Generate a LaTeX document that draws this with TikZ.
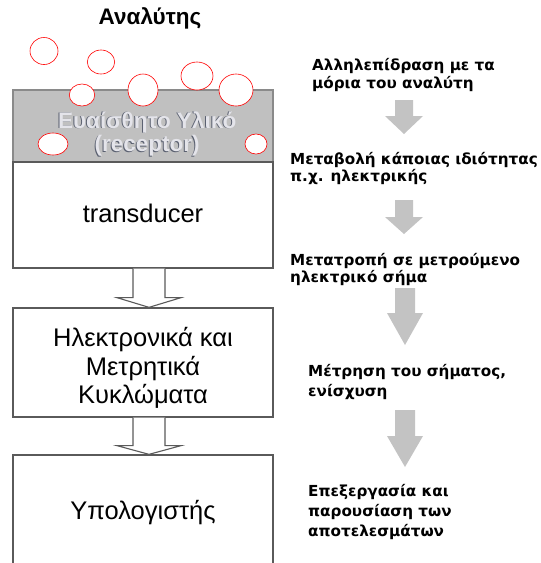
\documentclass[tikz,border=0pt]{standalone}
\usepackage{fontspec}
\setmainfont{Liberation Sans}
\newfontfamily\rfont{DejaVu Sans}
\usetikzlibrary{calc}
\definecolor{recfill}{HTML}{C0C0C0}
\definecolor{recborder}{HTML}{8A8A8A}
\definecolor{boxborder}{HTML}{5A5A5A}
\definecolor{arrowgray}{HTML}{C3C3C3}
\definecolor{rectext}{HTML}{E4E4EA}
\definecolor{recshadow}{HTML}{5A6070}
\tikzset{
  box/.style={draw=boxborder, line width=1.3pt, fill=white, minimum width=260pt, inner sep=0pt},
  boxtext/.style={font=\fontsize{25.5}{28.5}\selectfont, align=center},
  molecule/.style={draw=red, line width=0.6pt, fill=white},
  hollow/.style={draw=boxborder, line width=1.1pt, fill=white, line join=miter},
  flow/.style={fill=arrowgray, draw=none},
  stepnote/.style={anchor=north west, inner sep=0pt, align=left, font=\rfont\bfseries\fontsize{15.2}{#1}\selectfont},
  stepnote/.default=17,
}
\begin{document}
\begin{tikzpicture}[x=1pt, y=-1pt]
\useasboundingbox (0,0) rectangle (541,563);
\begin{scope}
\clip (0,0) rectangle (541,563);
% boxes
\node[box, draw=recborder, fill=recfill, minimum height=72pt] (rec) at (143,126) {};
\node[box, minimum height=106pt] (trans) at (143,215) {};
\node[box, minimum height=109pt] (elec) at (143,362.5) {};
\node[box, minimum height=120pt] (comp) at (143,515) {};
\end{scope}
% texts in boxes
\node[boxtext] (transt) at (143,213) {transducer};
\node[boxtext] (elect) at (143,368) {Ηλεκτρονικά και\\Μετρητικά\\Κυκλώματα};
\node[boxtext] (compt) at (143,513) {Υπολογιστής};
% receptor text with shadow
\node[font=\fontsize{22.5}{23.5}\selectfont\bfseries, text=recshadow, align=center] (recs) at (146.2,134.5) {Ευαίσθητο Υλικό\\(receptor)};
\node[font=\fontsize{22.5}{23.5}\selectfont\bfseries, text=rectext, align=center] (rect) at (147.2,133.7) {Ευαίσθητο Υλικό\\(receptor)};
% molecules
\draw[molecule] (44,51) ellipse (14 and 13.5);
\draw[molecule] (101,62) ellipse (13.7 and 12);
\draw[molecule] (82,95) ellipse (12.7 and 11);
\draw[molecule] (143,90) ellipse (15 and 16);
\draw[molecule] (197,76) ellipse (16 and 14);
\draw[molecule] (236,90) ellipse (17 and 16);
\draw[molecule] (53,144) ellipse (15 and 11);
\draw[molecule] (256,144) ellipse (11 and 10);
% title
\node[font=\bfseries\fontsize{22.5}{27}\selectfont] (title) at (150,18) {Αναλύτης};
% hollow arrows between boxes
\draw[hollow] ($(trans.south)+(-10,0)$) -- ($(trans.south)+(-10,29)$) -- ($(trans.south)+(-26,29)$)
  -- ($(elec.north)+(6,0)$) -- ($(trans.south)+(38,29)$) -- ($(trans.south)+(22,29)$) -- ($(trans.south)+(22,0)$);
\draw[hollow] ($(elec.south)+(-10,0)$) -- ($(elec.south)+(-10,28)$) -- ($(elec.south)+(-26,28)$)
  -- ($(comp.north)+(6,0)$) -- ($(elec.south)+(38,28)$) -- ($(elec.south)+(22,28)$) -- ($(elec.south)+(22,0)$);
% right-hand steps
\node[stepnote=18] (s1) at (312,58) {Αλληλεπίδραση με τα\\μόρια του αναλύτη};
\node[stepnote=17] (s2) at (290,152) {Μεταβολή κάποιας ιδιότητας\\π.χ. ηλεκτρικής};
\node[stepnote=17] (s3) at (290,253) {Μετατροπή σε μετρούμενο\\ηλεκτρικό σήμα};
\node[stepnote=20] (s4) at (308,364) {Μέτρηση του σήματος,\\ενίσχυση};
\node[stepnote=20] (s5) at (308,484) {Επεξεργασία και\\παρουσίαση των\\αποτελεσμάτων};
% grey flow arrows
\coordinate (a1) at (404,100);
\coordinate (a2) at (404,200);
\coordinate (a3) at (405,288);
\coordinate (a4) at (405,410);
\fill[flow] ($(a1)+(-9,0)$) -- ++(18,0) -- ++(0,16) -- ++(10,0) -- ($(a1)+(0,34)$) -- ($(a1)+(-19,16)$) -- ++(10,0) -- cycle;
\fill[flow] ($(a2)+(-9,0)$) -- ++(18,0) -- ++(0,17) -- ++(10,0) -- ($(a2)+(0,34)$) -- ($(a2)+(-19,17)$) -- ++(10,0) -- cycle;
\fill[flow] ($(a3)+(-10,0)$) -- ++(20,0) -- ++(0,25) -- ++(8,0) -- ($(a3)+(0,57)$) -- ($(a3)+(-18,25)$) -- ++(8,0) -- cycle;
\fill[flow] ($(a4)+(-10,0)$) -- ++(20,0) -- ++(0,26) -- ++(8,0) -- ($(a4)+(0,57)$) -- ($(a4)+(-18,26)$) -- ++(8,0) -- cycle;
\end{tikzpicture}
\end{document}
